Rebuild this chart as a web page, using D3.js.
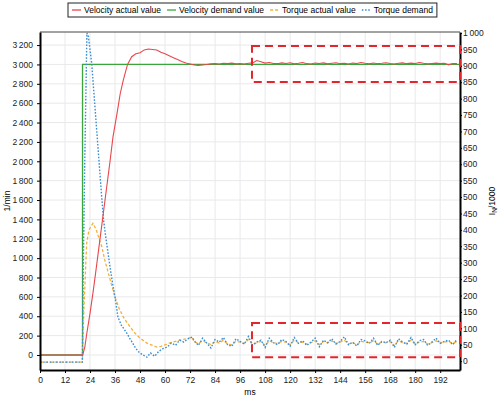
<!DOCTYPE html>
<html>
<head>
<meta charset="utf-8">
<script src="https://cdn.jsdelivr.net/npm/d3@7"></script>
<style>
  body { margin: 0; background: #fff; }
  svg { font-family: "Liberation Sans", Arial, sans-serif; }
  .grid line { stroke: #e9e9ec; stroke-width: 1; }
  .axis path, .axis line { stroke: #000; }
  .axis text { font-size: 8.5px; fill: #222; }
</style>
</head>
<body>
<svg id="chart" width="498" height="398"></svg>
<script>
// series names and colours (legend order)
var seriesNames = ["Velocity actual value", "Velocity demand value", "Torque actual value", "Torque demand"];

// axis ticks
var xTicks = [0, 12, 24, 36, 48, 60, 72, 84, 96, 108, 120, 132, 144, 156, 168, 180, 192];
var leftTicks = [0, 200, 400, 600, 800, 1000, 1200, 1400, 1600, 1800, 2000, 2200, 2400, 2600, 2800, 3000, 3200];
var rightTicks = [0, 50, 100, 150, 200, 250, 300, 350, 400, 450, 500, 550, 600, 650, 700, 750, 800, 850, 900, 950, 1000];

// velocity demand (1/min), step
var velDemandT = [0, 20.4, 20.4, 201.5];
var velDemandV = [0, 0, 3000, 3000];

// velocity actual (1/min), start-up part
var velActualT = [0, 20.5, 21.5, 22.5, 24, 25.6, 27, 28.5, 30, 31.2, 33.6, 35, 37, 38.5, 40, 42, 44, 46, 48, 50, 52, 54, 56, 58, 60, 62, 64, 66, 68, 70, 72, 74, 76, 78];
var velActualV = [0, 0, 80, 230, 430, 670, 900, 1150, 1400, 1600, 2000, 2250, 2500, 2700, 2840, 3000, 3080, 3110, 3120, 3150, 3160, 3155, 3150, 3125, 3110, 3090, 3070, 3050, 3030, 3015, 3005, 2995, 2990, 2995];
// velocity actual, steady part sampled every 2 ms from 80 ms
var velSteadyStart = 80;
var velSteady = [3000, 3006, 3010, 3004, 3012, 3008, 3014, 3006, 3010, 3004, 3012, 3016, 3040, 3028, 3014, 3020, 3010, 3008, 3016, 3010,
  3018, 3006, 3012, 3020, 3008, 3004, 3014, 3010, 3016, 3006, 3012, 3018, 3008, 3012, 3004, 3014, 3010, 3020, 3012, 3006,
  3015, 3008, 3012, 3018, 3010, 3004, 3012, 3016, 3008, 3014, 3010, 3020, 3012, 3006, 3010, 3014, 3008, 3012, 2996, 3010, 3008];

// torque demand (I_N/1000), start-up part
var torqueDemandT = [0, 20.3, 20.8, 21.5, 22.5, 23.2, 24.8, 27.2, 29.6, 30.5, 31.5, 33.6, 35, 36, 37.4, 39, 41.7, 43, 45.6, 47, 49, 51.3, 53, 55, 57, 59, 61, 63, 65, 67, 69, 71, 73];
var torqueDemandV = [-3, -3, 300, 620, 1000, 990, 908, 704, 500, 430, 380, 287, 230, 195, 134, 110, 85, 70, 43, 30, 20, 12, 25, 15, 30, 38, 43, 55, 48, 64, 58, 68, 73];

// torque actual (I_N/1000), start-up part
var torqueActualT = [0, 20.3, 21, 22.4, 23.5, 25.4, 27, 28.5, 29.7, 31, 32, 34, 36, 38, 40, 42, 44, 45.6, 48, 51.3, 54, 56, 58, 60, 62, 66, 70, 73];
var torqueActualV = [-3, -3, 150, 360, 400, 420, 400, 370, 348, 310, 287, 240, 195, 160, 134, 115, 98, 85, 70, 55, 48, 43, 45, 50, 55, 62, 68, 73];

// torque steady parts sampled every 2 ms from 74 ms
var torqueSteadyStart = 74;
var torqueDemandSteady = [62, 48, 70, 55, 40, 66, 58, 72, 50, 45, 68, 60, 52, 75, 48, 58, 64, 42, 70, 56,
  50, 66, 60, 46, 72, 54, 62, 48, 58, 70, 44, 64, 56, 68, 52, 60, 74, 50, 58, 46,
  66, 62, 54, 70, 48, 60, 56, 64, 42, 68, 58, 52, 72, 50, 62, 66, 48, 58, 70, 54, 60, 64, 50, 66];
var torqueActualSteady = [58, 54, 62, 56, 50, 60, 55, 64, 52, 50, 60, 58, 54, 66, 52, 56, 60, 48, 62, 56,
  54, 60, 58, 50, 64, 56, 58, 52, 56, 62, 50, 60, 56, 62, 54, 58, 64, 52, 56, 50,
  60, 58, 56, 62, 52, 58, 56, 60, 48, 62, 56, 54, 64, 52, 58, 60, 52, 56, 62, 56, 58, 60, 54, 60];

// highlighted regions (ms, I_N/1000)
var boxT0 = [101.7, 101.7];
var boxT1 = [201.5, 201.5];
var boxV0 = [851, 12];
var boxV1 = [960, 116];

var colors = ["#e8474c", "#3aa53a", "#f2b13c", "#3b8fd4"];
var dashes = [null, null, "3,2", "1.6,1.6"];

var svg = d3.select("#chart");
var pLeft = 40, pRight = 460, pTop = 32, pBottom = 370;

var x = d3.scaleLinear().domain([0, 201.5]).range([pLeft, pRight]);
var yL = d3.scaleLinear().domain([-155, 3335]).range([pBottom, pTop]);
var yR = d3.scaleLinear().domain([-27, 1003]).range([pBottom, pTop]);

var loc = d3.formatLocale({decimal: ".", thousands: "\u2009", grouping: [3], currency: ["", ""]});
var fmt = loc.format(",d");

// grid
var grid = svg.append("g").classed("grid", true);
grid.selectAll(".gx").data(xTicks.slice(1)).enter().append("line")
  .attr("x1", d => x(d)).attr("x2", d => x(d)).attr("y1", pTop).attr("y2", pBottom);
grid.selectAll(".gy").data(leftTicks).enter().append("line")
  .attr("x1", pLeft).attr("x2", pRight).attr("y1", d => yL(d)).attr("y2", d => yL(d));

// build point lists
function pairs(ts, vs) { return ts.map((t, i) => [t, vs[i]]); }
function steady(start, vs) { return vs.map((v, i) => [start + 2 * i, v]); }

var velActual = pairs(velActualT, velActualV).concat(steady(velSteadyStart, velSteady));
var velDemand = pairs(velDemandT, velDemandV);
var tqActual = pairs(torqueActualT, torqueActualV).concat(steady(torqueSteadyStart, torqueActualSteady));
var tqDemand = pairs(torqueDemandT, torqueDemandV).concat(steady(torqueSteadyStart, torqueDemandSteady));

svg.append("clipPath").attr("id", "clip").append("rect")
  .attr("x", pLeft).attr("y", pTop).attr("width", pRight - pLeft).attr("height", pBottom - pTop);

var plot = svg.append("g").attr("clip-path", "url(#clip)");
var lineL = d3.line().x(d => x(d[0])).y(d => yL(d[1]));
var lineR = d3.line().x(d => x(d[0])).y(d => yR(d[1]));

plot.append("path").datum(velDemand).attr("d", lineL)
  .attr("fill", "none").attr("stroke", colors[1]).attr("stroke-width", 1.3);
plot.append("path").datum(tqActual).attr("d", lineR)
  .attr("fill", "none").attr("stroke", colors[2]).attr("stroke-width", 1.3).attr("stroke-dasharray", dashes[2]);
plot.append("path").datum(tqDemand).attr("d", lineR)
  .attr("fill", "none").attr("stroke", colors[3]).attr("stroke-width", 1.4).attr("stroke-dasharray", dashes[3]);
plot.append("path").datum(velActual).attr("d", lineL)
  .attr("fill", "none").attr("stroke", colors[0]).attr("stroke-width", 1.1);

// top border
svg.append("line").attr("x1", pLeft).attr("x2", pRight).attr("y1", pTop).attr("y2", pTop)
  .attr("stroke", "#444").attr("stroke-width", 1);

// axes
var xAxis = svg.append("g").classed("axis", true).attr("transform", "translate(0," + pBottom + ")")
  .call(d3.axisBottom(x).tickValues(xTicks).tickSize(3).tickPadding(4).tickSizeOuter(0));
var lAxis = svg.append("g").classed("axis", true).attr("transform", "translate(" + pLeft + ",0)")
  .call(d3.axisLeft(yL).tickValues(leftTicks).tickFormat(fmt).tickSize(3).tickPadding(4).tickSizeOuter(0));
var rAxis = svg.append("g").classed("axis", true).attr("transform", "translate(" + pRight + ",0)")
  .call(d3.axisRight(yR).tickValues(rightTicks).tickFormat(fmt).tickSize(2).tickPadding(1).tickSizeOuter(0));
[xAxis, lAxis, rAxis].forEach(a => a.select(".domain").attr("stroke-width", 2));

// highlight boxes
svg.selectAll(".hbox").data(boxT0).enter().append("rect")
  .attr("x", (d, i) => x(boxT0[i]))
  .attr("y", (d, i) => yR(boxV1[i]))
  .attr("width", (d, i) => x(boxT1[i]) - x(boxT0[i]))
  .attr("height", (d, i) => yR(boxV0[i]) - yR(boxV1[i]))
  .attr("fill", "none").attr("stroke", "#e3262b").attr("stroke-width", 2).attr("stroke-dasharray", "8,5");

// axis titles
svg.append("text").attr("x", (pLeft + pRight) / 2).attr("y", 395)
  .attr("text-anchor", "middle").style("font-size", "8.5px").text("ms");
svg.append("text").attr("transform", "translate(10," + ((pTop + pBottom) / 2) + ") rotate(-90)")
  .attr("text-anchor", "middle").style("font-size", "8.5px").text("1/min");
var rt = svg.append("text").attr("transform", "translate(495," + ((pTop + pBottom) / 2) + ") rotate(-90)")
  .attr("text-anchor", "middle").style("font-size", "8.5px");
rt.append("tspan").text("I");
rt.append("tspan").attr("dy", 2).style("font-size", "6.5px").text("N");
rt.append("tspan").attr("dy", -2).text("/1000");

// legend
var legend = svg.append("g");
var lx = 72, ly = 10;
var legendBox = legend.append("rect").attr("x", 68).attr("y", 3).attr("height", 14)
  .attr("fill", "#fff").attr("stroke", "#222").attr("stroke-width", 1);
seriesNames.forEach(function(name, i) {
  legend.append("line").attr("x1", lx).attr("x2", lx + 9).attr("y1", ly).attr("y2", ly)
    .attr("stroke", colors[i]).attr("stroke-width", 1.3).attr("stroke-dasharray", dashes[i]);
  var t = legend.append("text").attr("x", lx + 12).attr("y", ly + 3).style("font-size", "8.5px").text(name);
  lx += 12 + t.node().getComputedTextLength() + 6;
});
legendBox.attr("width", lx - 68 - 2);
</script>
</body>
</html>
